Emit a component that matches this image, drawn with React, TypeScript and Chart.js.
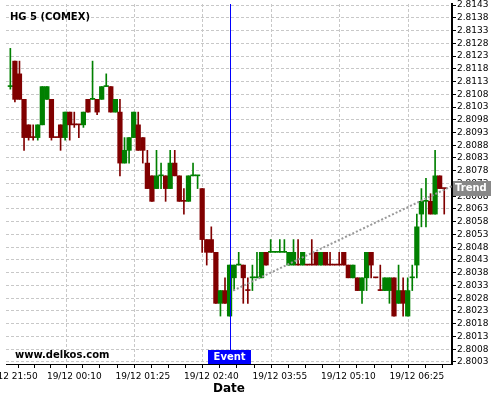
import React, { useEffect, useRef } from 'react';
import { Chart, registerables } from 'chart.js';

Chart.register(...registerables);

const CHART_TITLE = 'HG 5 (COMEX)';
const WATERMARK = 'www.delkos.com';
const X_TITLE = 'Date';
const EVENT_LABEL = 'Event';
const TREND_LABEL = 'Trend';

const OPEN = [
  2.8111, 2.8121, 2.8116, 2.8106, 2.8096, 2.8091, 2.8091, 2.8096, 2.8106, 2.8106,
  2.8091, 2.8096, 2.8091, 2.8101, 2.8096, 2.8096, 2.8096, 2.8106, 2.8106, 2.8106,
  2.8106, 2.8111, 2.8111, 2.8101, 2.8101, 2.8081, 2.8086, 2.8091, 2.8096, 2.8091,
  2.8081, 2.8076, 2.8071, 2.8076, 2.8076, 2.8071, 2.8081, 2.8076, 2.8066, 2.8066,
  2.8076, 2.8076, 2.8071, 2.8051, 2.8051, 2.8046, 2.8026, 2.8031, 2.8021, 2.8036,
  2.8041, 2.8041, 2.8031, 2.8036, 2.8036, 2.8036, 2.8046, 2.8046, 2.8046, 2.8046,
  2.8046, 2.8041, 2.8041, 2.8041, 2.8041, 2.8041, 2.8041, 2.8046, 2.8041, 2.8046,
  2.8041, 2.8041, 2.8041, 2.8046, 2.8041, 2.8036, 2.8036, 2.8031, 2.8036, 2.8046,
  2.8036, 2.8031, 2.8031, 2.8031, 2.8036, 2.8026, 2.8031, 2.8021, 2.8036, 2.8041,
  2.8061, 2.8066, 2.8066, 2.8061, 2.8076, 2.8071,
];
const HIGH = [
  2.8126, 2.8121, 2.8121, 2.8106, 2.8096, 2.8096, 2.8096, 2.8111, 2.8111, 2.8106,
  2.8091, 2.8096, 2.8101, 2.8101, 2.8101, 2.8096, 2.8101, 2.8106, 2.8121, 2.8106,
  2.8111, 2.8116, 2.8111, 2.8106, 2.8106, 2.8091, 2.8091, 2.8101, 2.8101, 2.8091,
  2.8086, 2.8076, 2.8086, 2.8081, 2.8076, 2.8086, 2.8086, 2.8076, 2.8071, 2.8076,
  2.8081, 2.8076, 2.8071, 2.8051, 2.8056, 2.8046, 2.8031, 2.8036, 2.8041, 2.8041,
  2.8046, 2.8041, 2.8036, 2.8041, 2.8046, 2.8046, 2.8046, 2.8051, 2.8046, 2.8051,
  2.8051, 2.8046, 2.8051, 2.8051, 2.8046, 2.8041, 2.8051, 2.8046, 2.8046, 2.8046,
  2.8046, 2.8041, 2.8046, 2.8046, 2.8041, 2.8041, 2.8036, 2.8036, 2.8046, 2.8046,
  2.8036, 2.8041, 2.8036, 2.8036, 2.8036, 2.8041, 2.8036, 2.8036, 2.8041, 2.8061,
  2.8071, 2.8075, 2.8069, 2.8086, 2.8076, 2.8071,
];
const LOW = [
  2.8110, 2.8105, 2.8106, 2.8086, 2.8090, 2.8090, 2.8090, 2.8096, 2.8106, 2.8090,
  2.8091, 2.8086, 2.8090, 2.8090, 2.8095, 2.8091, 2.8095, 2.8101, 2.8106, 2.8100,
  2.8106, 2.8111, 2.8101, 2.8101, 2.8076, 2.8081, 2.8081, 2.8091, 2.8086, 2.8081,
  2.8071, 2.8066, 2.8071, 2.8071, 2.8066, 2.8071, 2.8076, 2.8066, 2.8061, 2.8066,
  2.8076, 2.8071, 2.8046, 2.8041, 2.8046, 2.8026, 2.8021, 2.8026, 2.8021, 2.8031,
  2.8041, 2.8026, 2.8026, 2.8031, 2.8036, 2.8036, 2.8041, 2.8046, 2.8046, 2.8046,
  2.8046, 2.8041, 2.8041, 2.8041, 2.8041, 2.8041, 2.8041, 2.8041, 2.8041, 2.8041,
  2.8041, 2.8041, 2.8041, 2.8041, 2.8036, 2.8036, 2.8031, 2.8026, 2.8031, 2.8036,
  2.8036, 2.8031, 2.8031, 2.8026, 2.8021, 2.8026, 2.8021, 2.8021, 2.8031, 2.8036,
  2.8056, 2.8056, 2.8061, 2.8061, 2.8071, 2.8061,
];
const CLOSE = [
  2.8111, 2.8106, 2.8106, 2.8091, 2.8091, 2.8091, 2.8096, 2.8111, 2.8111, 2.8091,
  2.8091, 2.8091, 2.8101, 2.8096, 2.8096, 2.8096, 2.8101, 2.8101, 2.8106, 2.8101,
  2.8111, 2.8111, 2.8101, 2.8106, 2.8081, 2.8086, 2.8091, 2.8101, 2.8086, 2.8086,
  2.8071, 2.8066, 2.8076, 2.8076, 2.8071, 2.8081, 2.8076, 2.8066, 2.8066, 2.8076,
  2.8076, 2.8076, 2.8051, 2.8046, 2.8046, 2.8026, 2.8031, 2.8026, 2.8041, 2.8041,
  2.8041, 2.8036, 2.8031, 2.8036, 2.8036, 2.8046, 2.8041, 2.8046, 2.8046, 2.8046,
  2.8046, 2.8046, 2.8046, 2.8041, 2.8046, 2.8041, 2.8041, 2.8041, 2.8046, 2.8041,
  2.8041, 2.8041, 2.8041, 2.8041, 2.8036, 2.8041, 2.8031, 2.8036, 2.8046, 2.8041,
  2.8036, 2.8031, 2.8036, 2.8036, 2.8021, 2.8031, 2.8026, 2.8031, 2.8036, 2.8056,
  2.8066, 2.8066, 2.8061, 2.8076, 2.8071, 2.8071,
];
// candles whose open equals close but that are drawn in the "up" colour
const GREEN_DOJI = [0, 18, 21, 33, 40, 41, 50, 53, 54, 57, 58, 59, 60, 88, 91];

const TIME_TICK_INDEX = [0, 14, 29, 44, 59, 74, 89];
const TIME_TICK_LABELS = [
  '19/12 21:50', '19/12 00:10', '19/12 01:25', '19/12 02:40',
  '19/12 03:55', '19/12 05:10', '19/12 06:25',
];

const PRICE_TICKS = [
  2.8003, 2.8008, 2.8013, 2.8018, 2.8023, 2.8028, 2.8033, 2.8038, 2.8043, 2.8048,
  2.8053, 2.8058, 2.8063, 2.8068, 2.8073, 2.8078, 2.8083, 2.8088, 2.8093, 2.8098,
  2.8103, 2.8108, 2.8113, 2.8118, 2.8123, 2.8128, 2.8133, 2.8138, 2.8143,
];

const EVENT_INDEX = 48;
const TREND_INDEX = [48.8, 96.7];
const TREND_PRICE = [2.8031, 2.8072];

const X_MIN = -0.95;
const X_MAX = 96.7;
const Y_MIN = 2.80022;
const Y_MAX = 2.81434;

const UP_COLOR = '#008000';
const DOWN_COLOR = '#800000';
const FONT = "'DejaVu Sans', sans-serif";

export default function App() {
  const ref = useRef<HTMLCanvasElement>(null);

  useEffect(() => {
    const canvas = ref.current;
    if (!canvas) return;

    const idx = OPEN.map((_, i) => i);
    const up = idx.map(
      (i) => CLOSE[i] > OPEN[i] || (CLOSE[i] === OPEN[i] && GREEN_DOJI.includes(i))
    );
    const colors = up.map((u) => (u ? UP_COLOR : DOWN_COLOR));

    const majorSet = new Set(TIME_TICK_INDEX);
    const allTicks: number[] = [];
    TIME_TICK_INDEX.forEach((a, k) => {
      allTicks.push(a);
      const b = k + 1 < TIME_TICK_INDEX.length ? TIME_TICK_INDEX[k + 1] : a + 15;
      for (let q = 1; q < 4; q++) {
        const v = a + ((b - a) * q) / 4;
        if (v < X_MAX) allTicks.push(v);
      }
    });

    const overlay = {
      id: 'overlay',
      afterDatasetsDraw(chart: any) {
        const { ctx, chartArea, scales } = chart;
        const x = Math.round(scales.x.getPixelForValue(EVENT_INDEX)) + 0.5;
        ctx.save();
        ctx.strokeStyle = '#0000ff';
        ctx.lineWidth = 1;
        ctx.beginPath();
        ctx.moveTo(x, chartArea.top);
        ctx.lineTo(x, chartArea.bottom);
        ctx.stroke();
        ctx.restore();
      },
      afterDraw(chart: any) {
        const { ctx, chartArea, scales } = chart;
        ctx.save();
        ctx.fillStyle = '#000';
        ctx.font = `bold 10px ${FONT}`;
        ctx.textAlign = 'left';
        ctx.textBaseline = 'alphabetic';
        ctx.fillText(CHART_TITLE, 10, 19.5);
        ctx.fillText(WATERMARK, 15, 357.5);

        // event label
        const ex = scales.x.getPixelForValue(EVENT_INDEX);
        const ew = 43;
        const eh = 14;
        ctx.fillStyle = '#0000ff';
        ctx.fillRect(Math.round(ex - ew / 2), chartArea.bottom - eh, ew, eh);
        ctx.fillStyle = '#fff';
        ctx.textAlign = 'center';
        ctx.textBaseline = 'middle';
        ctx.fillText(EVENT_LABEL, ex, chartArea.bottom - eh / 2);

        // trend label
        const ty = scales.y.getPixelForValue(TREND_PRICE[1]) + 2;
        ctx.fillStyle = '#888888';
        ctx.fillRect(chartArea.right + 1, Math.round(ty - 7.5), 38, 15);
        ctx.fillStyle = '#fff';
        ctx.textAlign = 'left';
        ctx.fillText(TREND_LABEL, chartArea.right + 3, ty);
        ctx.restore();
      },
    };

    const chart = new Chart(canvas, {
      type: 'bar',
      data: {
        datasets: [
          {
            type: 'line',
            data: TREND_INDEX.map((x, i) => ({ x, y: TREND_PRICE[i] })),
            borderColor: '#999999',
            borderWidth: 2,
            borderDash: [2, 2],
            pointRadius: 0,
            fill: false,
            order: 0,
          } as any,
          {
            type: 'bar',
            data: idx.map((i) => ({ x: i, y: [OPEN[i], CLOSE[i]] })),
            backgroundColor: colors,
            borderWidth: 0,
            grouped: false,
            barPercentage: 1,
            categoryPercentage: 1,
            minBarLength: 1,
            order: 1,
          } as any,
          {
            type: 'bar',
            data: idx.map((i) => ({ x: i, y: [LOW[i], HIGH[i]] })),
            backgroundColor: colors,
            borderWidth: 0,
            grouped: false,
            barThickness: 1,
            order: 2,
          } as any,
        ],
      },
      options: {
        animation: false,
        responsive: false,
        maintainAspectRatio: false,
        events: [],
        layout: { padding: { left: 6, top: 4, right: 0, bottom: 0 } },
        plugins: {
          legend: { display: false },
          tooltip: { enabled: false },
          title: { display: false },
        },
        scales: {
          x: {
            type: 'linear',
            min: X_MIN,
            max: X_MAX,
            offset: false,
            afterBuildTicks: (scale: any) => {
              scale.ticks = allTicks.map((v) => ({ value: v }));
            },
            afterFit: (scale: any) => {
              scale.height = 36;
              scale.paddingLeft = 0;
              scale.paddingRight = 0;
            },
            ticks: {
              autoSkip: false,
              maxRotation: 0,
              minRotation: 0,
              padding: 3,
              color: '#000',
              font: { family: FONT, size: 9 },
              callback: (value: any) => {
                const k = TIME_TICK_INDEX.indexOf(Number(value));
                return k >= 0 ? TIME_TICK_LABELS[k] : '';
              },
            },
            grid: {
              color: (ctx: any) =>
                ctx.tick && majorSet.has(ctx.tick.value) ? '#c8c8c8' : 'rgba(0,0,0,0)',
              tickColor: '#000',
              tickLength: 4,
              lineWidth: 1,
            },
            border: { display: true, color: '#000', width: 1, dash: [3, 2] },
            title: {
              display: true,
              text: X_TITLE,
              color: '#000',
              font: { family: FONT, size: 12, weight: 'bold' },
              padding: { top: 0, bottom: 4 },
            },
          },
          y: {
            type: 'linear',
            position: 'right',
            min: Y_MIN,
            max: Y_MAX,
            afterBuildTicks: (scale: any) => {
              scale.ticks = PRICE_TICKS.map((v) => ({ value: v }));
            },
            afterFit: (scale: any) => {
              scale.width = 48;
              scale.paddingTop = 0;
              scale.paddingBottom = 0;
            },
            ticks: {
              autoSkip: false,
              padding: 1,
              color: '#000',
              font: { family: FONT, size: 9 },
              callback: (value: any) => Number(value).toFixed(4),
            },
            grid: {
              color: '#c8c8c8',
              tickColor: '#000',
              tickLength: 4,
              lineWidth: 1,
            },
            border: { display: true, color: '#000', width: 2, dash: [3, 2] },
          },
        },
      } as any,
      plugins: [overlay],
    });

    return () => chart.destroy();
  }, []);

  return (
    <div style={{ position: 'fixed', left: 0, top: 0, width: 500, height: 400, background: '#fff' }}>
      <canvas ref={ref} width={500} height={400} style={{ display: 'block' }} />
    </div>
  );
}
